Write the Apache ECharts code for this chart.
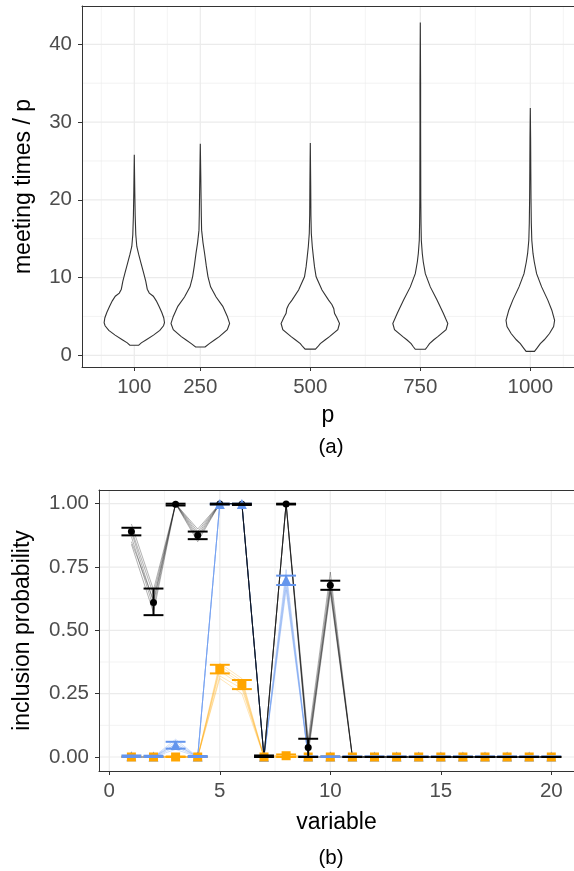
<!DOCTYPE html>
<html>
<head>
<meta charset="utf-8">
<script src="https://cdn.jsdelivr.net/npm/echarts@6/dist/echarts.min.js"></script>
<style>
html,body{margin:0;padding:0;background:#fff;}
#chart{width:574px;height:871px;}
</style>
</head>
<body>
<div id="chart"></div>
<script>
// ---------------- Panel (a): violin data ----------------
const pValues = [100, 250, 500, 750, 1000];
const pTickLabels = [100, 250, 500, 750, 1000];
const meetingTicks = [0, 10, 20, 30, 40];
const meetingMinor = [5, 15, 25, 35];
const pMinor = [25, 175, 375, 625, 875, 1075];

// y = meeting times / p ; half-width of the violin in p units (density)
const violin100Y = [1.3, 1.6, 2.0, 2.6, 3.2, 3.8, 4.2, 4.8, 5.5, 6.3, 7.0, 7.6, 8.0, 8.5, 9.5, 10.5, 11.8, 13.0, 14.0, 15.5, 18, 21, 25.8];
const violin100W = [10.2, 15.9, 27.3, 43.6, 58.0, 66.4, 68.6, 67.0, 62.5, 56.1, 50.0, 43.2, 34.1, 29.5, 26.1, 21.6, 15.5, 9.8, 5.7, 3.4, 2.0, 1.1, 0];
const violin250Y = [1.07, 1.5, 2.0, 2.4, 3.3, 4.1, 5.0, 6.3, 7.5, 8.8, 10.1, 11.5, 13.1, 14.5, 16.1, 18, 20, 23, 27.2];
const violin250W = [10.7, 20.5, 33.0, 43.2, 61.4, 66.6, 61.4, 51.1, 35.9, 23.4, 17.5, 13.6, 9.8, 6.1, 3.0, 2.3, 1.8, 1.1, 0];
const violin500Y = [0.8, 1.1, 1.5, 2.0, 2.4, 3.3, 4.1, 4.8, 5.4, 6.0, 6.5, 7.1, 8.4, 10.1, 11.4, 12.5, 14.0, 15.7, 18, 22, 27.3];
const violin500W = [11.8, 17.0, 22.7, 34.1, 43.6, 62.5, 66.4, 60.7, 55.0, 53.4, 49.3, 41.6, 26.6, 13.2, 9.5, 7.3, 4.5, 2.3, 1.4, 0.9, 0];
const violin750Y = [0.77, 1.1, 1.5, 2.0, 2.4, 3.3, 4.1, 5.4, 7.1, 8.8, 10.5, 12, 13.1, 14.8, 17, 20, 25, 30, 35, 42.8];
const violin750W = [11.4, 15.9, 20.9, 30.7, 39.8, 58.6, 62.5, 52.3, 38.0, 22.7, 11.4, 6.8, 4.5, 2.3, 1.6, 1.1, 0.9, 0.7, 0.7, 0];
const violin1000Y = [0.5, 0.9, 1.5, 2.0, 2.8, 3.7, 4.5, 5.8, 7.1, 8.8, 10.5, 12, 13.1, 14.8, 17, 20, 24, 28, 31.8];
const violin1000W = [9.5, 14.8, 22.7, 31.8, 43.6, 53.0, 55.2, 48.9, 39.8, 25.7, 14.3, 9.1, 6.1, 3.4, 2.3, 1.6, 1.1, 0.7, 0];

const violinYs = [violin100Y, violin250Y, violin500Y, violin750Y, violin1000Y];
const violinWs = [violin100W, violin250W, violin500W, violin750W, violin1000W];

// ---------------- Panel (b): inclusion probabilities ----------------
const variables = [1, 2, 3, 4, 5, 6, 7, 8, 9, 10, 11, 12, 13, 14, 15, 16, 17, 18, 19, 20];
const probTicks = [0, 0.25, 0.5, 0.75, 1];
const probMinor = [0.125, 0.375, 0.625, 0.875];
const varTicks = [0, 5, 10, 15, 20];
const varMinor = [2.5, 7.5, 12.5, 17.5];

const blackMean = [0.89, 0.61, 0.998, 0.875, 0.999, 0.998, 0.003, 0.999, 0.037, 0.678, 0, 0, 0, 0, 0, 0, 0, 0, 0, 0];
const blackLow  = [0.875, 0.56, 0.993, 0.86, 0.997, 0.995, 0, 0.997, 0, 0.66, 0, 0, 0, 0, 0, 0, 0, 0, 0, 0];
const blackHigh = [0.905, 0.665, 1, 0.89, 1, 1, 0.006, 1, 0.072, 0.696, 0, 0, 0, 0, 0, 0, 0, 0, 0, 0];

const blueMean = [0.003, 0.002, 0.047, 0.002, 0.999, 0.999, 0.001, 0.699, 0.002, 0.002, 0.002, 0.002, 0.002, 0.002, 0.002, 0.002, 0.002, 0.002, 0.002, 0.002];
const blueLow  = [0, 0, 0.033, 0, 0.997, 0.997, 0, 0.679, 0, 0, 0, 0, 0, 0, 0, 0, 0, 0, 0, 0];
const blueHigh = [0.006, 0.005, 0.06, 0.004, 1, 1, 0.002, 0.716, 0.003, 0.003, 0.003, 0.003, 0.003, 0.003, 0.003, 0.003, 0.003, 0.003, 0.003, 0.003];

const orangeMean = [0, 0, 0, 0, 0.347, 0.288, 0, 0.005, 0, 0, 0, 0, 0, 0, 0, 0, 0, 0, 0, 0];
const orangeLow  = [0, 0, 0, 0, 0.33, 0.268, 0, 0, 0, 0, 0, 0, 0, 0, 0, 0, 0, 0, 0, 0];
const orangeHigh = [0.002, 0.002, 0.002, 0.002, 0.364, 0.304, 0.002, 0.01, 0.002, 0.002, 0.002, 0.002, 0.002, 0.002, 0.002, 0.002, 0.002, 0.002, 0.002, 0.002];

// individual runs (faint lines)
const blackRuns = [
  [0.92, 0.66, 1, 0.90, 1, 1, 0, 1, 0.07, 0.73, 0, 0, 0, 0, 0, 0, 0, 0, 0, 0],
  [0.90, 0.64, 1, 0.89, 1, 1, 0, 1, 0.05, 0.70, 0, 0, 0, 0, 0, 0, 0, 0, 0, 0],
  [0.89, 0.61, 1, 0.87, 1, 1, 0, 1, 0.04, 0.68, 0, 0, 0, 0, 0, 0, 0, 0, 0, 0],
  [0.87, 0.59, 1, 0.86, 1, 1, 0, 1, 0.03, 0.66, 0, 0, 0, 0, 0, 0, 0, 0, 0, 0],
  [0.85, 0.62, 1, 0.88, 1, 1, 0, 1, 0.02, 0.67, 0, 0, 0, 0, 0, 0, 0, 0, 0, 0],
  [0.84, 0.57, 1, 0.85, 1, 1, 0, 1, 0.01, 0.65, 0, 0, 0, 0, 0, 0, 0, 0, 0, 0]
];
const blueRuns = [
  [0, 0, 0.07, 0, 1, 1, 0, 0.74, 0, 0, 0, 0, 0, 0, 0, 0, 0, 0, 0, 0],
  [0, 0, 0.06, 0, 1, 1, 0, 0.72, 0, 0, 0, 0, 0, 0, 0, 0, 0, 0, 0, 0],
  [0, 0, 0.05, 0, 1, 1, 0, 0.70, 0, 0, 0, 0, 0, 0, 0, 0, 0, 0, 0, 0],
  [0, 0, 0.04, 0, 1, 1, 0, 0.69, 0, 0, 0, 0, 0, 0, 0, 0, 0, 0, 0, 0],
  [0, 0, 0.03, 0, 1, 1, 0, 0.67, 0, 0, 0, 0, 0, 0, 0, 0, 0, 0, 0, 0],
  [0, 0, 0.05, 0, 1, 1, 0, 0.66, 0, 0, 0, 0, 0, 0, 0, 0, 0, 0, 0, 0]
];
const orangeRuns = [
  [0, 0, 0, 0, 0.37, 0.31, 0, 0.01, 0, 0, 0, 0, 0, 0, 0, 0, 0, 0, 0, 0],
  [0, 0, 0, 0, 0.36, 0.30, 0, 0, 0, 0, 0, 0, 0, 0, 0, 0, 0, 0, 0, 0],
  [0, 0, 0, 0, 0.35, 0.29, 0, 0.01, 0, 0, 0, 0, 0, 0, 0, 0, 0, 0, 0, 0],
  [0, 0, 0, 0, 0.34, 0.28, 0, 0, 0, 0, 0, 0, 0, 0, 0, 0, 0, 0, 0, 0],
  [0, 0, 0, 0, 0.32, 0.27, 0, 0, 0, 0, 0, 0, 0, 0, 0, 0, 0, 0, 0, 0],
  [0, 0, 0, 0, 0.31, 0.25, 0, 0, 0, 0, 0, 0, 0, 0, 0, 0, 0, 0, 0, 0]
];

// ---------------- styling / layout ----------------
const FONT = '"Liberation Sans", Arial, Helvetica, sans-serif';
const GRID_COLOR = '#EBEBEB';
const TICK_COLOR = '#4D4D4D';
const BLACK = '#000000';
const BLUE = '#6495ED';
const ORANGE = '#FFA500';
const CAP_WIDTH = 0.9;

const extA = { xMin: -18.86, xMax: 1099.3, yMin: -1.505, yMax: 44.93 };
const extB = { xMin: -0.466, xMax: 21.027, yMin: -0.0553, yMax: 1.0541 };

function gridLines(idx, ext, vMaj, vMin, hMaj, hMin) {
  const data = [];
  vMin.forEach(v => data.push([v, 0, 0]));
  hMin.forEach(v => data.push([v, 1, 0]));
  vMaj.forEach(v => data.push([v, 0, 1]));
  hMaj.forEach(v => data.push([v, 1, 1]));
  return {
    type: 'custom', xAxisIndex: idx, yAxisIndex: idx, silent: true, z: 0,
    animation: false,
    renderItem: function (params, api) {
      const v = api.value(0), dir = api.value(1), maj = api.value(2);
      let p1, p2;
      if (dir === 0) { p1 = api.coord([v, ext.yMin]); p2 = api.coord([v, ext.yMax]); }
      else { p1 = api.coord([ext.xMin, v]); p2 = api.coord([ext.xMax, v]); }
      return { type: 'line', shape: { x1: p1[0], y1: p1[1], x2: p2[0], y2: p2[1] },
               style: { stroke: GRID_COLOR, lineWidth: maj ? 1.2 : 0.6 } };
    },
    data: data
  };
}

function runLines(runs, color) {
  return runs.map(run => ({
    type: 'line', xAxisIndex: 1, yAxisIndex: 1, silent: true, z: 2,
    symbol: 'none', animation: false,
    lineStyle: { color: color, width: 1 },
    data: variables.map((v, k) => [v, run[k]])
  }));
}

function points(mean, color, symbol, size) {
  return {
    type: 'scatter', xAxisIndex: 1, yAxisIndex: 1, silent: true, z: 3,
    symbol: symbol, symbolSize: size, animation: false,
    itemStyle: { color: color, opacity: 1 },
    data: variables.map((v, k) => [v, mean[k]])
  };
}

function errorBars(low, high, color) {
  return {
    type: 'custom', xAxisIndex: 1, yAxisIndex: 1, silent: true, z: 4, animation: false,
    renderItem: function (params, api) {
      const x = api.value(0), lo = api.value(1), hi = api.value(2);
      const a = api.coord([x, lo]), b = api.coord([x, hi]);
      const hw = api.size([CAP_WIDTH, 0])[0] / 2;
      const st = { stroke: color, lineWidth: 2 };
      return { type: 'group', children: [
        { type: 'line', shape: { x1: a[0], y1: a[1], x2: b[0], y2: b[1] }, style: st },
        { type: 'line', shape: { x1: a[0] - hw, y1: a[1], x2: a[0] + hw, y2: a[1] }, style: st },
        { type: 'line', shape: { x1: b[0] - hw, y1: b[1], x2: b[0] + hw, y2: b[1] }, style: st }
      ]};
    },
    data: variables.map((v, k) => [v, low[k], high[k]])
  };
}

function valueAxis(gridIndex, ext, isX, ticks, name, nameGap, fmt) {
  return {
    type: 'value', gridIndex: gridIndex,
    min: isX ? ext.xMin : ext.yMin, max: isX ? ext.xMax : ext.yMax,
    axisLine: { show: true, onZero: false, lineStyle: { color: '#333333', width: 1 } },
    axisTick: { show: true, length: 4, customValues: ticks, lineStyle: { color: '#333333', width: 1 } },
    axisLabel: { customValues: ticks, fontSize: 20.5, color: TICK_COLOR, fontFamily: FONT, margin: 10,
                 formatter: fmt },
    splitLine: { show: false },
    name: name, nameLocation: 'middle', nameGap: nameGap,
    nameTextStyle: { fontSize: 23, color: '#000', fontFamily: FONT }
  };
}

function topBorderAxis(gridIndex, ext) {
  return {
    type: 'value', gridIndex: gridIndex, position: 'top', min: ext.xMin, max: ext.xMax,
    axisLine: { show: true, onZero: false, lineStyle: { color: '#333333', width: 1 } },
    axisTick: { show: false }, axisLabel: { show: false }, splitLine: { show: false }
  };
}

const series = [];
series.push(gridLines(0, extA, pTickLabels, pMinor, meetingTicks, meetingMinor));
series.push(gridLines(1, extB, varTicks, varMinor, probTicks, probMinor));
series.push({
  type: 'custom', xAxisIndex: 0, yAxisIndex: 0, silent: true, z: 2, animation: false,
  renderItem: function (params, api) {
    const p = api.value(0), i = api.value(1);
    const ys = violinYs[i], ws = violinWs[i];
    const pts = [];
    for (let k = 0; k < ys.length; k++) pts.push(api.coord([p + ws[k], ys[k]]));
    for (let k = ys.length - 1; k >= 0; k--) pts.push(api.coord([p - ws[k], ys[k]]));
    return { type: 'polygon', shape: { points: pts }, style: { fill: '#ffffff', stroke: '#333333', lineWidth: 1.1 } };
  },
  data: pValues.map((p, i) => [p, i])
});
series.push(...runLines(orangeRuns, 'rgba(255,165,0,0.28)'));
series.push(...runLines(blueRuns, 'rgba(100,149,237,0.3)'));
series.push(...runLines(blackRuns, 'rgba(0,0,0,0.3)'));
series.push(points(blackMean, BLACK, 'circle', 7));
series.push(points(blueMean, BLUE, 'triangle', 10));
series.push(points(orangeMean, ORANGE, 'rect', 9));
series.push(errorBars(orangeLow, orangeHigh, ORANGE));
series.push(errorBars(blueLow, blueHigh, BLUE));
series.push(errorBars(blackLow, blackHigh, BLACK));

const chart = echarts.init(document.getElementById('chart'), null, { renderer: 'canvas' });
chart.setOption({
  animation: false,
  backgroundColor: '#ffffff',
  grid: [
    { left: 82, top: 6, width: 492, height: 361, show: false, containLabel: false },
    { left: 99, top: 490, width: 475, height: 281, show: false, containLabel: false }
  ],
  xAxis: [
    valueAxis(0, extA, true, pTickLabels, 'p', 37, v => String(v)),
    valueAxis(1, extB, true, varTicks, 'variable', 40, v => String(v)),
    topBorderAxis(0, extA),
    topBorderAxis(1, extB)
  ],
  yAxis: [
    valueAxis(0, extA, false, meetingTicks, 'meeting times / p', 47, v => String(v)),
    valueAxis(1, extB, false, probTicks, 'inclusion probability', 65, v => v.toFixed(2))
  ],
  graphic: [
    { type: 'text', x: 331, y: 447, silent: true,
      style: { text: '(a)', fontSize: 20.5, fontFamily: FONT, fill: '#000', align: 'center', verticalAlign: 'middle', textAlign: 'center', textVerticalAlign: 'middle' } },
    { type: 'text', x: 331, y: 858, silent: true,
      style: { text: '(b)', fontSize: 20.5, fontFamily: FONT, fill: '#000', align: 'center', verticalAlign: 'middle', textAlign: 'center', textVerticalAlign: 'middle' } }
  ],
  series: series
});
</script>
</body>
</html>
